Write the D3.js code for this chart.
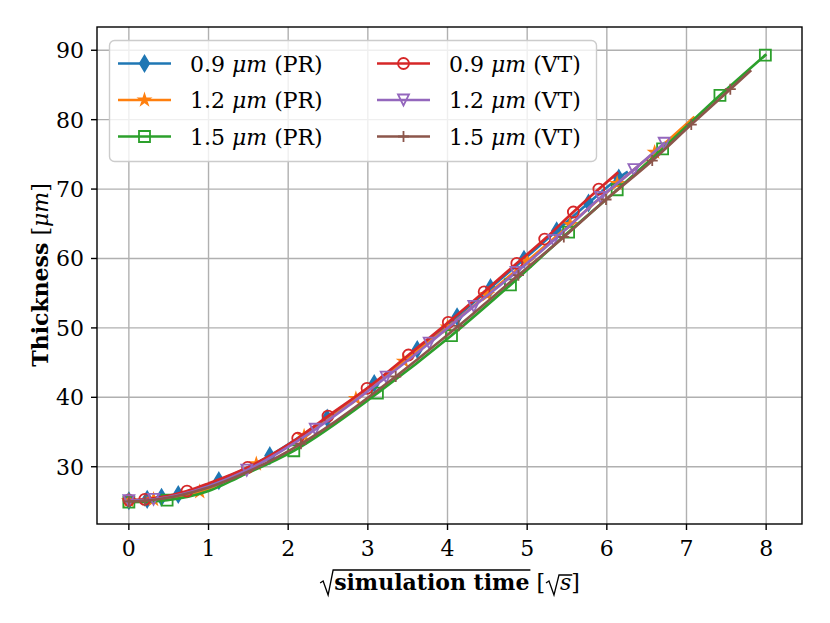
<!DOCTYPE html>
<html>
<head>
<meta charset="utf-8">
<script src="https://cdn.jsdelivr.net/npm/d3@7"></script>
<style>
body { margin: 0; background: #fff; }
svg { display: block; font-family: "DejaVu Serif", serif; }
</style>
</head>
<body>
<svg id="chart" width="830" height="623"></svg>
<script>
const xTicks = [0, 1, 2, 3, 4, 5, 6, 7, 8]
const yTicks = [30, 40, 50, 60, 70, 80, 90]

// 0.9 um (PR)
const pr09X = [0, 0.23, 0.41, 0.62, 1.13, 1.77, 2.49, 3.08, 3.62, 4.12, 4.54, 4.96, 5.37, 5.77, 6.15, 6.25]
const pr09Y = [25.1, 25.3, 25.6, 26.0, 28.0, 31.6, 37.0, 42.0, 46.9, 51.6, 55.8, 59.9, 64.0, 68.0, 71.6, 72.4]
const pr09M = [1, 1, 1, 1, 1, 1, 1, 1, 1, 1, 1, 1, 1, 1, 1, 0]
// 1.2 um (PR)
const pr12X = [0, 0.31, 0.89, 1.6, 2.2, 2.85, 3.45, 4.0, 4.5, 5.0, 5.54, 6.13, 6.6, 7.09]
const pr12Y = [25.1, 25.3, 26.4, 30.4, 34.4, 39.8, 45.2, 50.1, 54.8, 59.6, 64.9, 70.8, 75.3, 80.3]
const pr12M = [1, 1, 1, 1, 1, 1, 1, 1, 1, 1, 1, 1, 1, 0]
// 1.5 um (PR)
const pr15X = [0, 0.48, 1.0, 1.4, 2.07, 3.12, 4.05, 4.79, 5.52, 6.13, 6.70, 7.42, 7.99]
const pr15Y = [24.9, 25.2, 26.5, 28.6, 32.3, 40.6, 48.9, 56.2, 63.8, 69.9, 75.8, 83.5, 89.3]
const pr15M = [1, 1, 0, 0, 1, 1, 1, 1, 1, 1, 1, 1, 1]
// 0.9 um (VT)
const vt09X = [0, 0.2, 0.73, 1.0, 1.49, 2.12, 2.50, 2.99, 3.51, 4.01, 4.46, 4.87, 5.22, 5.58, 5.90, 6.13]
const vt09Y = [25.2, 25.3, 26.5, 27.6, 29.9, 34.1, 37.3, 41.3, 46.1, 50.8, 55.2, 59.3, 62.8, 66.7, 70.0, 72.3]
const vt09M = [1, 1, 1, 0, 1, 1, 1, 1, 1, 1, 1, 1, 1, 1, 1, 0]
// 1.2 um (VT)
const vt12X = [0, 0.31, 1.0, 1.48, 2.34, 3.23, 3.77, 4.33, 4.86, 5.33, 5.92, 6.34, 6.72]
const vt12Y = [25.1, 25.3, 27.2, 29.5, 35.4, 42.9, 47.8, 53.1, 58.0, 62.6, 68.8, 72.8, 76.6]
const vt12M = [1, 1, 0, 1, 1, 1, 1, 1, 1, 1, 1, 1, 1]
// 1.5 um (VT)
const vt15X = [0, 0.2, 1.0, 1.5, 2.16, 3.35, 4.14, 4.89, 5.46, 5.99, 6.57, 7.06, 7.55, 7.8]
const vt15Y = [25.0, 25.1, 27.0, 29.3, 33.3, 43.0, 50.3, 57.6, 63.1, 68.5, 74.1, 79.3, 84.4, 87.0]
const vt15M = [1, 1, 0, 0, 1, 1, 1, 1, 1, 1, 1, 1, 1, 0]

const series = [
    {size: '0.9', tag: 'PR', xs: pr09X, ys: pr09Y, ms: pr09M, color: '#1f77b4', marker: 'thin_diamond'},
    {size: '1.2', tag: 'PR', xs: pr12X, ys: pr12Y, ms: pr12M, color: '#ff7f0e', marker: 'star'},
    {size: '1.5', tag: 'PR', xs: pr15X, ys: pr15Y, ms: pr15M, color: '#2ca02c', marker: 'square'},
    {size: '0.9', tag: 'VT', xs: vt09X, ys: vt09Y, ms: vt09M, color: '#d62728', marker: 'circle'},
    {size: '1.2', tag: 'VT', xs: vt12X, ys: vt12Y, ms: vt12M, color: '#9467bd', marker: 'triangle_down'},
    {size: '1.5', tag: 'VT', xs: vt15X, ys: vt15Y, ms: vt15M, color: '#8c564b', marker: 'plus'}
]

const pL = 97, pR = 802, pT = 27, pB = 524
const fs = 22

const svg = d3.select('#chart')

const x = d3.scaleLinear().domain([-0.40, 8.45]).range([pL, pR])
const y = d3.scaleLinear().domain([21.75, 93.35]).range([pB, pT])

// grid
const grid = svg.append('g')
grid.selectAll('.gx').data(xTicks).enter().append('line')
    .attr('x1', d => x(d)).attr('x2', d => x(d))
    .attr('y1', pT).attr('y2', pB)
    .attr('stroke', '#b0b0b0').attr('stroke-width', 1.4)
grid.selectAll('.gy').data(yTicks).enter().append('line')
    .attr('x1', pL).attr('x2', pR)
    .attr('y1', d => y(d)).attr('y2', d => y(d))
    .attr('stroke', '#b0b0b0').attr('stroke-width', 1.4)

const MS = 11
const markerPath = (type) => {
    const s = MS
    if (type == 'thin_diamond') {
        const h = s * 0.707, w = h * 0.6
        return `M0,${-h}L${w},0L0,${h}L${-w},0Z`
    }
    if (type == 'star') {
        let pts = []
        for (let k = 0; k < 10; k++) {
            const r = k % 2 == 0 ? s / 2 : s / 2 * 0.382
            const a = -Math.PI / 2 + k * Math.PI / 5
            pts.push([r * Math.cos(a), r * Math.sin(a)])
        }
        return 'M' + pts.map(p => p.join(',')).join('L') + 'Z'
    }
    if (type == 'square') return `M${-s/2},${-s/2}H${s/2}V${s/2}H${-s/2}Z`
    if (type == 'circle') return d3.arc()({innerRadius: 0, outerRadius: s / 2, startAngle: 0, endAngle: 2 * Math.PI})
    if (type == 'triangle_down') return `M0,${s/2}L${-s/2},${-s/2}L${s/2},${-s/2}Z`
    if (type == 'plus') return `M${-s/2},0H${s/2}M0,${-s/2}V${s/2}`
}
const filled = t => t == 'thin_diamond' || t == 'star'

svg.append('defs').append('clipPath').attr('id', 'clip')
    .append('rect').attr('x', pL).attr('y', pT).attr('width', pR - pL).attr('height', pB - pT)

const line = d3.line().x(d => x(d[0])).y(d => y(d[1])).curve(d3.curveMonotoneX)
const plot = svg.append('g').attr('clip-path', 'url(#clip)')

series.forEach(s => {
    const pts = s.xs.map((v, i) => [v, s.ys[i], s.ms[i]])
    plot.append('path')
        .attr('d', line(pts))
        .attr('fill', 'none')
        .attr('stroke', s.color)
        .attr('stroke-width', 2.7)
        .attr('stroke-linejoin', 'round')
        .attr('stroke-linecap', 'square')
    plot.append('g').selectAll('path')
        .data(pts.filter(p => p[2] == 1))
        .enter().append('path')
        .attr('d', markerPath(s.marker))
        .attr('transform', d => `translate(${x(d[0])},${y(d[1])})`)
        .attr('fill', filled(s.marker) ? s.color : 'none')
        .attr('stroke', s.color)
        .attr('stroke-width', 1.8)
        .attr('stroke-linejoin', 'miter')
})

// frame + ticks
svg.append('rect').attr('x', pL).attr('y', pT).attr('width', pR - pL).attr('height', pB - pT)
    .attr('fill', 'none').attr('stroke', '#000').attr('stroke-width', 1.4)

const xAxis = svg.append('g')
xAxis.selectAll('line').data(xTicks).enter().append('line')
    .attr('x1', d => x(d)).attr('x2', d => x(d))
    .attr('y1', pB).attr('y2', pB + 6)
    .attr('stroke', '#000').attr('stroke-width', 1.4)
xAxis.selectAll('text').data(xTicks).enter().append('text')
    .attr('x', d => x(d)).attr('y', 556)
    .attr('text-anchor', 'middle').attr('font-size', fs)
    .text(d => d)

const yAxis = svg.append('g')
yAxis.selectAll('line').data(yTicks).enter().append('line')
    .attr('x1', pL - 6).attr('x2', pL)
    .attr('y1', d => y(d)).attr('y2', d => y(d))
    .attr('stroke', '#000').attr('stroke-width', 1.4)
yAxis.selectAll('text').data(yTicks).enter().append('text')
    .attr('x', 84).attr('y', d => y(d) + 8)
    .attr('text-anchor', 'end').attr('font-size', fs)
    .text(d => d)

// y label
const yl = svg.append('text')
    .attr('transform', 'translate(48,275) rotate(-90)')
    .attr('text-anchor', 'middle').attr('font-size', fs)
yl.append('tspan').attr('font-weight', 'bold').text('Thickness')
yl.append('tspan').text(' [')
yl.append('tspan').attr('font-style', 'italic').text('μm')
yl.append('tspan').text(']')

// x label, laid out piece by piece so the radicals can be drawn
const xlBase = 590
const xl = svg.append('g')
const pieces = [
    {t: 'rad', w: 15},
    {t: 'simulation time', bold: true},
    {t: ' ['},
    {t: 'rad', w: 15},
    {t: 's', italic: true},
    {t: ']'}
]
let cx = 0
const placed = pieces.map(p => {
    if (p.t == 'rad') { const o = {rad: true, x: cx, w: p.w}; cx += p.w; return o }
    const el = xl.append('text').attr('font-size', fs).attr('y', xlBase)
        .attr('font-weight', p.bold ? 'bold' : null)
        .attr('font-style', p.italic ? 'italic' : null)
        .attr('xml:space', 'preserve')
        .text(p.t)
    const w = el.node().getComputedTextLength()
    const o = {el: el, x: cx, w: w, bold: !!p.bold}
    cx += w
    return o
})
const x0 = (pL + pR) / 2 - cx / 2
placed.forEach((p, i) => {
    if (p.rad) {
        const next = placed[i + 1]
        const bx = x0 + p.x
        const topY = next.bold ? xlBase - 20 : xlBase - 15
        xl.append('path')
            .attr('d', `M${bx + 1},${xlBase - 7}L${bx + 4},${xlBase - 9}L${bx + 9},${xlBase + 5}L${bx + p.w - 1},${topY}H${x0 + next.x + next.w + 1}`)
            .attr('fill', 'none').attr('stroke', '#000').attr('stroke-width', 1.3)
    } else {
        p.el.attr('x', x0 + p.x)
    }
})

// legend
const lg = svg.append('g')
lg.append('rect').attr('x', 109.5).attr('y', 40.5).attr('width', 487).attr('height', 121).attr('rx', 5)
    .attr('fill', 'rgba(255,255,255,0.8)').attr('stroke', '#cccccc').attr('stroke-width', 1.4)
const rowY = [63.5, 100, 136.5]
const colX = [118, 377]
series.forEach((s, i) => {
    const col = i < 3 ? 0 : 1
    const row = i % 3
    const lx = colX[col], ly = rowY[row]
    lg.append('line').attr('x1', lx).attr('x2', lx + 53).attr('y1', ly).attr('y2', ly)
        .attr('stroke', s.color).attr('stroke-width', 2.7)
    lg.append('path').attr('d', markerPath(s.marker))
        .attr('transform', `translate(${lx + 26.5},${ly})`)
        .attr('fill', filled(s.marker) ? s.color : 'none')
        .attr('stroke', s.color).attr('stroke-width', 1.8)
    const t = lg.append('text').attr('x', lx + 72).attr('y', ly + 8).attr('font-size', fs)
        .attr('xml:space', 'preserve')
    t.append('tspan').text(s.size + ' ')
    t.append('tspan').attr('font-style', 'italic').text('μm')
    t.append('tspan').text(' (' + s.tag + ')')
})
</script>
</body>
</html>
